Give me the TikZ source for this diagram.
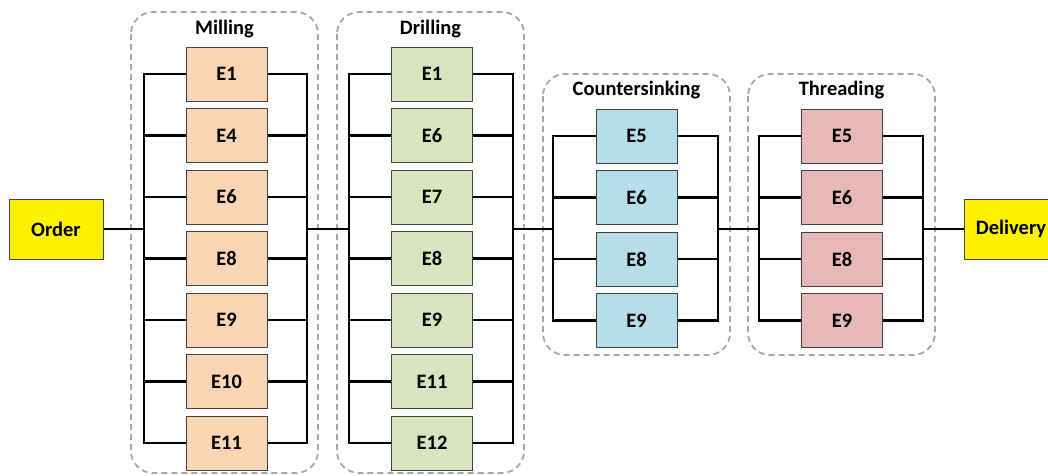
\documentclass[tikz,border=0pt]{standalone}
\usepackage{fontspec}
\setmainfont{Carlito}
\usepackage{tikz}
\usetikzlibrary{positioning,backgrounds}

\definecolor{millfill}{HTML}{FCD5B5}
\definecolor{drillfill}{HTML}{D7E4BD}
\definecolor{sinkfill}{HTML}{B7DEE8}
\definecolor{threadfill}{HTML}{E6B9B8}

\begin{document}
\begin{tikzpicture}[x=1pt,y=-1pt,node distance=6.5pt,
    lbl/.style={font=\fontsize{20.5}{24}\selectfont\bfseries},
    machine/.style={lbl,draw=black!75,line width=1pt,minimum width=81pt,minimum height=54pt,inner sep=0pt},
    endbox/.style={machine,fill=yellow,minimum width=94pt,minimum height=60pt},
    group/.style={draw=black!35,line width=1.8pt,dash pattern=on 6pt off 4pt,rounded corners=22pt},
    wire/.style={line width=2.2pt,line cap=rect}]
  \useasboundingbox (0,0) rectangle (1048,475);
  \clip (0,0) rectangle (1048,475);

  \node[endbox] (order) at (56,229) {Order};
  \node[endbox] (delivery) at (1011,229) {Delivery};

  \node[lbl] (tmill) at (224.5,29) {Milling};
  \node[lbl] (tdrill) at (430.5,29) {Drilling};
  \node[lbl] (tsink) at (636.5,90) {Countersinking};
  \node[lbl] (tthread) at (841.5,90) {Threading};

  % milling
  \node[machine,fill=millfill] (m1) at (226.5,74) {E1};
  \node[machine,fill=millfill,below=of m1] (m2) {E4};
  \node[machine,fill=millfill,below=of m2] (m3) {E6};
  \node[machine,fill=millfill,below=of m3] (m4) {E8};
  \node[machine,fill=millfill,below=of m4] (m5) {E9};
  \node[machine,fill=millfill,below=of m5] (m6) {E10};
  \node[machine,fill=millfill,below=of m6] (m7) {E11};

  % drilling
  \node[machine,fill=drillfill] (d1) at (432,74) {E1};
  \node[machine,fill=drillfill,below=of d1] (d2) {E6};
  \node[machine,fill=drillfill,below=of d2] (d3) {E7};
  \node[machine,fill=drillfill,below=of d3] (d4) {E8};
  \node[machine,fill=drillfill,below=of d4] (d5) {E9};
  \node[machine,fill=drillfill,below=of d5] (d6) {E11};
  \node[machine,fill=drillfill,below=of d6] (d7) {E12};

  % countersinking
  \node[machine,fill=sinkfill] (c1) at (636.5,136) {E5};
  \node[machine,fill=sinkfill,below=of c1] (c2) {E6};
  \node[machine,fill=sinkfill,below=of c2] (c3) {E8};
  \node[machine,fill=sinkfill,below=of c3] (c4) {E9};

  % threading
  \node[machine,fill=threadfill] (t1) at (842,136) {E5};
  \node[machine,fill=threadfill,below=of t1] (t2) {E6};
  \node[machine,fill=threadfill,below=of t2] (t3) {E8};
  \node[machine,fill=threadfill,below=of t3] (t4) {E9};

  \coordinate (mL) at (144,229);  \coordinate (mR) at (307,229);
  \coordinate (dL) at (349,229);  \coordinate (dR) at (513,229);
  \coordinate (cL) at (553,229);  \coordinate (cR) at (718,229);
  \coordinate (tL) at (759,229);  \coordinate (tR) at (923,229);

  \begin{scope}[on background layer]
    \draw[group] (131,12) rectangle (318,473);
    \draw[group] (337,12) rectangle (524,473);
    \draw[group] (543,74) rectangle (730,355);
    \draw[group] (748,74) rectangle (935,355);

    \foreach \b/\l/\r in {m1/mL/mR,m2/mL/mR,m3/mL/mR,m4/mL/mR,m5/mL/mR,m6/mL/mR,m7/mL/mR,
        d1/dL/dR,d2/dL/dR,d3/dL/dR,d4/dL/dR,d5/dL/dR,d6/dL/dR,d7/dL/dR,
        c1/cL/cR,c2/cL/cR,c3/cL/cR,c4/cL/cR,t1/tL/tR,t2/tL/tR,t3/tL/tR,t4/tL/tR}
      \draw[wire] (\l |- \b) -- (\b.west) (\b.east) -- (\r |- \b);

    \draw[wire] (mL |- m1) -- (mL |- m7) (mR |- m1) -- (mR |- m7);
    \draw[wire] (dL |- d1) -- (dL |- d7) (dR |- d1) -- (dR |- d7);
    \draw[wire] (cL |- c1) -- (cL |- c4) (cR |- c1) -- (cR |- c4);
    \draw[wire] (tL |- t1) -- (tL |- t4) (tR |- t1) -- (tR |- t4);

    \draw[wire] (order) -- (mL) (mR) -- (dL) (dR) -- (cL) (cR) -- (tL) (tR) -- (delivery);
  \end{scope}
\end{tikzpicture}
\end{document}
